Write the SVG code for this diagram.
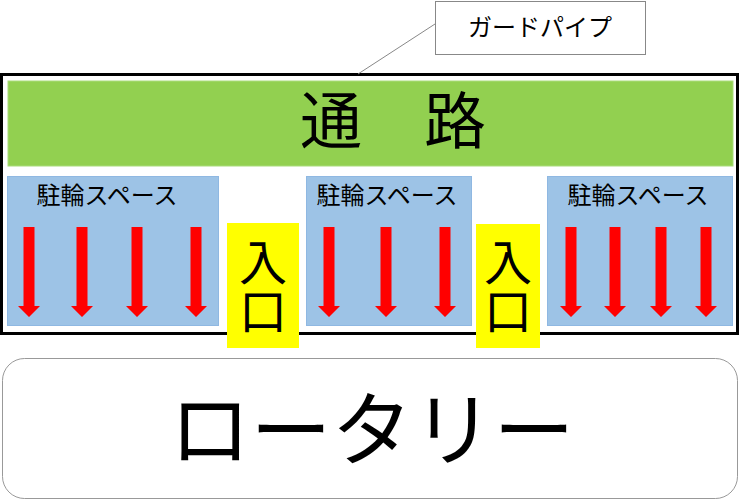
<svg xmlns="http://www.w3.org/2000/svg" width="740" height="502" viewBox="0 0 740 502">
<style>
.t{font-family:"Liberation Serif","Noto Sans CJK JP",serif;fill:#000;text-anchor:middle;dominant-baseline:central}
.park{fill:#9DC3E6;stroke:#8FB8E2;stroke-width:1}
.ent{fill:#FFFF00}
.arr{fill:#FF0000}
</style>
<defs>
<polygon id="arrow" points="-5.5,0 5.5,0 5.5,79 11,79 0,90 -11,79 -5.5,79"/>
</defs>
<g id="guard-frame">
<rect x="1.5" y="74.5" width="736" height="259" fill="#fff" stroke="#000" stroke-width="3"/>
</g>
<g id="road">
<rect x="8" y="81" width="725" height="85" fill="#92D050" stroke="#A9DC7A" stroke-width="1"/>
<text class="t" x="393" y="123" font-size="62">通　路</text>
</g>
<g id="parking1">
<rect class="park" x="7.5" y="176.5" width="211" height="149" stroke="#5CC4A4"/>
<text class="t" x="107" y="196" font-size="24">駐輪スペース</text>
<use href="#arrow" class="arr" x="29" y="227"/>
<use href="#arrow" class="arr" x="82" y="227"/>
<use href="#arrow" class="arr" x="137" y="227"/>
<use href="#arrow" class="arr" x="196" y="227"/>
</g>
<g id="parking2">
<rect class="park" x="306.5" y="176.5" width="165" height="149"/>
<text class="t" x="387" y="196" font-size="24">駐輪スペース</text>
<use href="#arrow" class="arr" x="329" y="227"/>
<use href="#arrow" class="arr" x="386" y="227"/>
<use href="#arrow" class="arr" x="445" y="227"/>
</g>
<g id="parking3">
<rect class="park" x="547.5" y="176.5" width="185" height="149"/>
<text class="t" x="638" y="196" font-size="24">駐輪スペース</text>
<use href="#arrow" class="arr" x="571" y="227"/>
<use href="#arrow" class="arr" x="615" y="227"/>
<use href="#arrow" class="arr" x="661" y="227"/>
<use href="#arrow" class="arr" x="706" y="227"/>
</g>
<g id="entrance1">
<rect class="ent" x="227" y="223" width="72" height="125"/>
<text class="t" x="263" y="263" font-size="48">入</text>
<text class="t" x="263" y="312" font-size="48">口</text>
</g>
<g id="entrance2">
<rect class="ent" x="476" y="224" width="64" height="124"/>
<text class="t" x="508" y="263" font-size="48">入</text>
<text class="t" x="508" y="312" font-size="48">口</text>
</g>
<g id="rotary">
<rect x="2.5" y="358.5" width="735" height="140" rx="22" fill="#fff" stroke="#999" stroke-width="1"/>
<text class="t" x="372" y="432" font-size="81">ロータリー</text>
</g>
<g id="label-guardpipe">
<rect x="435.5" y="1.5" width="210" height="53" fill="#fff" stroke="#888" stroke-width="1"/>
<text class="t" x="540" y="28" font-size="24">ガードパイプ</text>
</g>
<g id="connectors">
<line x1="435" y1="24" x2="358" y2="74" stroke="#888" stroke-width="1"/>
</g>
</svg>
